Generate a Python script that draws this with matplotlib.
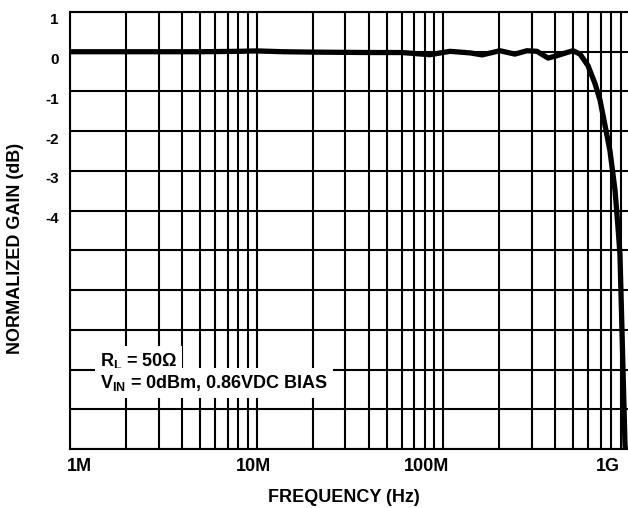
import matplotlib
matplotlib.use('Agg')
import matplotlib.pyplot as plt
from matplotlib.ticker import FixedLocator, NullFormatter
from matplotlib.transforms import ScaledTranslation

# ---- data ----
freq_hz = [1e6, 2e6, 5e6, 8e6, 10e6, 14e6, 20e6, 40e6, 60e6, 85e6, 109e6, 140e6,
           162e6, 202e6, 243e6, 282e6, 319e6, 366e6, 408e6, 462e6, 498e6, 543e6,
           599e6, 653e6, 695e6, 739e6, 786e6, 836e6, 867e6, 889e6, 946e6, 985e6]
gain_db = [0.0, 0.0, 0.0, 0.01, 0.02, 0.0, -0.01, -0.02, -0.02, -0.075, 0.01, -0.03,
           -0.08, 0.025, -0.06, 0.025, 0.01, -0.16, -0.10, -0.02, 0.025, -0.06,
           -0.35, -0.80, -1.22, -1.85, -2.50, -3.48, -4.40, -5.10, -9.90, -10.6]

x_tick_values = [1e6, 1e7, 1e8, 1e9]
x_tick_labels = ['1M', '10M', '100M', '1G']
x_minor_values = [m * 10.0 ** e for e in (6, 7, 8) for m in range(2, 10)]
y_tick_values = [1, 0, -1, -2, -3, -4, -5, -6, -7, -8, -9, -10]
y_tick_labels = ['1', '0', '-1', '-2', '-3', '-4', '', '', '', '', '', '']

note_line1 = r'R$_{L}$ = 50Ω'
note_line2 = r'V$_{IN}$ = 0dBm, 0.86VDC BIAS'
x_title = 'FREQUENCY (Hz)'
y_title = 'NORMALIZED GAIN (dB)'

# ---- style ----
plt.rcParams['font.family'] = ['Liberation Sans', 'DejaVu Sans']
plt.rcParams['font.weight'] = 'bold'
plt.rcParams['mathtext.fontset'] = 'custom'
plt.rcParams['mathtext.rm'] = 'Liberation Sans:bold'
plt.rcParams['mathtext.bf'] = 'Liberation Sans:bold'
plt.rcParams['mathtext.it'] = 'Liberation Sans:bold'
plt.rcParams['mathtext.default'] = 'bf'

W, H = 628, 508
fig = plt.figure(figsize=(W / 100, H / 100), dpi=100)
ax = fig.add_axes([70 / W, 59 / H, 559.5 / W, 437 / H])
ax.set_xscale('log')
ax.set_xlim(1e6, 1e9)
ax.set_ylim(-10, 1)

lw_grid = 1.5
ax.plot(freq_hz, gain_db, color='black', lw=3.8, solid_capstyle='butt',
        solid_joinstyle='round', zorder=3)

ax.set_xticks(x_tick_values, x_tick_labels)
ax.xaxis.set_minor_locator(FixedLocator(x_minor_values))
ax.xaxis.set_minor_formatter(NullFormatter())
ax.set_yticks(y_tick_values, y_tick_labels)
ax.grid(True, which='both', color='black', lw=lw_grid)
ax.set_axisbelow(True)

for side in ('left', 'bottom', 'top'):
    ax.spines[side].set_linewidth(lw_grid)
    ax.spines[side].set_color('black')
ax.spines['right'].set_visible(False)

ax.tick_params(axis='x', which='both', length=0, pad=6.5, labelsize=13)
ax.tick_params(axis='y', which='both', length=0, pad=8, labelsize=11)

# label placement shifts (pixels)
x_shift = [9, -3, -16, -22]
for lab, dx in zip(ax.get_xticklabels(), x_shift):
    lab.set_transform(lab.get_transform() + ScaledTranslation(dx / 100, 0, fig.dpi_scale_trans))
for lab in ax.get_yticklabels():
    lab.set_transform(lab.get_transform() + ScaledTranslation(0, -7 / 100, fig.dpi_scale_trans))

ax.set_xlabel(x_title, fontsize=13, fontweight='bold')
ax.xaxis.label.set_va('center')
ax.xaxis.set_label_coords((344 - 70) / 559.5, (449 - 497) / 437)
ax.set_ylabel(y_title, fontsize=13, fontweight='bold')
ax.yaxis.label.set_va('center')
ax.yaxis.set_label_coords((16 - 70) / 559.5, (449 - 248) / 437)

bbox = dict(boxstyle='square,pad=0.25', facecolor='white', edgecolor='none')
ax.text((100 - 70) / 559.5, (449 - 366) / 437, note_line1, transform=ax.transAxes,
        fontsize=13, fontweight='bold', ha='left', va='baseline', bbox=bbox, zorder=4)
ax.text((100 - 70) / 559.5, (449 - 388) / 437, note_line2, transform=ax.transAxes,
        fontsize=13, fontweight='bold', ha='left', va='baseline', bbox=bbox, zorder=4)

fig.savefig('out.png', dpi=100)
